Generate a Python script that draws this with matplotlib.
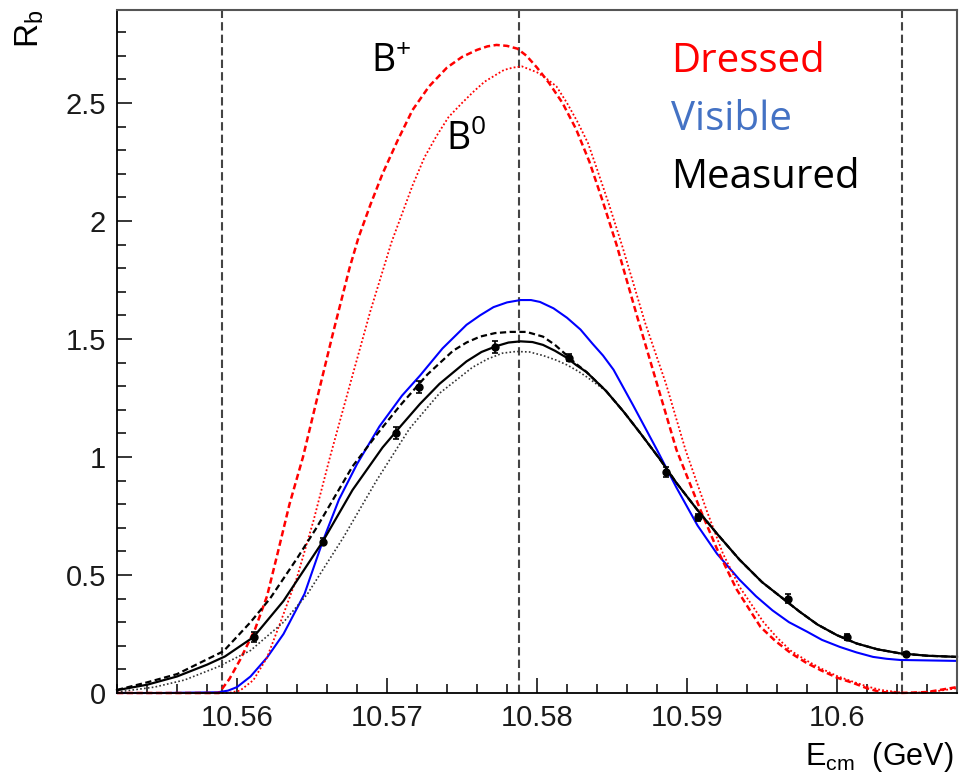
import matplotlib
matplotlib.use("Agg")
import matplotlib.pyplot as plt
from matplotlib.ticker import MultipleLocator, FuncFormatter

# dressed cross sections (red)
bp_dressed_e = [10.552, 10.555, 10.5588, 10.5595, 10.5602, 10.5612, 10.562, 10.5627, 10.5635, 10.5644,
                10.5655, 10.5664, 10.5675, 10.5681, 10.5689, 10.5697, 10.5707, 10.5717, 10.5728, 10.574,
                10.575, 10.576, 10.5767, 10.5773, 10.578, 10.5787, 10.5793, 10.58, 10.5808, 10.5817,
                10.5826, 10.5835, 10.5844, 10.5853, 10.5867, 10.588, 10.5893, 10.5909, 10.592, 10.5933,
                10.5949, 10.5959, 10.5969, 10.5979, 10.5989, 10.6, 10.6011, 10.602, 10.6029, 10.6042,
                10.606, 10.608]
bp_dressed_r = [0, 0, 0, 0.06, 0.14, 0.27, 0.41, 0.59, 0.80, 1.00,
                1.29, 1.525, 1.80, 1.93, 2.07, 2.20, 2.34, 2.47, 2.57, 2.65,
                2.695, 2.725, 2.74, 2.746, 2.742, 2.73, 2.70, 2.65, 2.585, 2.50,
                2.39, 2.25, 2.08, 1.90, 1.59, 1.31, 1.03, 0.775, 0.61, 0.44,
                0.28, 0.22, 0.17, 0.13, 0.097, 0.065, 0.042, 0.02, 0.004, 0,
                0.004, 0.025]

b0_dressed_e = [10.552, 10.555, 10.5594, 10.5602, 10.5611, 10.562, 10.5629, 10.564, 10.5651, 10.5662,
                10.5675, 10.5689, 10.5703, 10.5717, 10.5725, 10.5733, 10.5741, 10.575, 10.5758, 10.5765,
                10.5778, 10.5784, 10.579, 10.58, 10.5806, 10.5813, 10.582, 10.5827, 10.5834, 10.584,
                10.5848, 10.5857, 10.5872, 10.5886, 10.5899, 10.5913, 10.5924, 10.5935, 10.5951, 10.596,
                10.5969, 10.5979, 10.5989, 10.6, 10.6011, 10.602, 10.6029, 10.6045, 10.6062, 10.608]
b0_dressed_r = [0, 0, 0, 0.01, 0.055, 0.15, 0.30, 0.49, 0.73, 1.00,
                1.30, 1.62, 1.91, 2.15, 2.27, 2.36, 2.44, 2.50, 2.55, 2.59,
                2.64, 2.65, 2.655, 2.63, 2.605, 2.57, 2.50, 2.42, 2.33, 2.22,
                2.07, 1.89, 1.57, 1.31, 1.03, 0.775, 0.59, 0.45, 0.30, 0.235,
                0.18, 0.14, 0.105, 0.072, 0.047, 0.028, 0.013, 0, 0.004, 0.02]

# visible (blue)
visible_e = [10.552, 10.555, 10.5587, 10.5594, 10.56, 10.5609, 10.562, 10.5631, 10.5645, 10.5657,
             10.5668, 10.568, 10.5695, 10.571, 10.5722, 10.5737, 10.5753, 10.5762, 10.5771, 10.578,
             10.5789, 10.5796, 10.5802, 10.5811, 10.582, 10.5829, 10.5837, 10.5844, 10.5851, 10.5864,
             10.588, 10.5893, 10.5907, 10.592, 10.5935, 10.5946, 10.5957, 10.5968, 10.598, 10.599,
             10.6002, 10.6013, 10.6024, 10.6033, 10.6042, 10.608]
visible_r = [0, 0, 0.003, 0.01, 0.025, 0.07, 0.15, 0.25, 0.42, 0.64,
             0.82, 0.97, 1.13, 1.26, 1.345, 1.46, 1.56, 1.60, 1.635, 1.655,
             1.665, 1.665, 1.657, 1.63, 1.59, 1.54, 1.48, 1.43, 1.37, 1.22,
             1.03, 0.87, 0.71, 0.59, 0.48, 0.41, 0.35, 0.30, 0.26, 0.225,
             0.195, 0.172, 0.153, 0.145, 0.14, 0.136]

# measured fit (black solid), B+ (dashed), B0 (dotted)
meas_e = [10.552, 10.554, 10.556, 10.558, 10.5592, 10.5611, 10.5631, 10.5657, 10.5677, 10.5697,
          10.5709, 10.5722, 10.5735, 10.5753, 10.5763, 10.5773, 10.5781, 10.5789, 10.5797, 10.5804,
          10.5812, 10.582, 10.5826, 10.5833, 10.5846, 10.5858, 10.5869, 10.5882, 10.5893, 10.5907,
          10.592, 10.5935, 10.595, 10.5962, 10.5975, 10.5987, 10.6, 10.6013, 10.6027, 10.6042,
          10.606, 10.608]
meas_r = [0.012, 0.035, 0.07, 0.12, 0.155, 0.237, 0.39, 0.64, 0.86, 1.04,
          1.13, 1.225, 1.31, 1.405, 1.445, 1.47, 1.485, 1.49, 1.487, 1.475,
          1.45, 1.42, 1.39, 1.36, 1.28, 1.19, 1.10, 0.99, 0.89, 0.775,
          0.675, 0.565, 0.47, 0.41, 0.345, 0.29, 0.245, 0.21, 0.185, 0.168,
          0.158, 0.153]

meas_bp_e = [10.552, 10.554, 10.556, 10.5575, 10.5591, 10.5609, 10.5622, 10.564, 10.5653, 10.5677,
             10.5695, 10.5709, 10.5727, 10.5744, 10.5753, 10.5762, 10.5772, 10.5782, 10.5793, 10.5804,
             10.5812, 10.582, 10.5826, 10.5833, 10.5846, 10.5858, 10.5869, 10.5882, 10.5893, 10.5907,
             10.592, 10.5935, 10.595, 10.5962, 10.5975, 10.5987, 10.6, 10.6013, 10.6027, 10.6042,
             10.606, 10.608]
meas_bp_r = [0.013, 0.045, 0.08, 0.127, 0.177, 0.30, 0.40, 0.57, 0.70, 0.96,
             1.11, 1.22, 1.35, 1.45, 1.485, 1.51, 1.525, 1.53, 1.53, 1.51,
             1.475, 1.43, 1.395, 1.36, 1.28, 1.19, 1.10, 0.99, 0.89, 0.775,
             0.675, 0.565, 0.47, 0.41, 0.345, 0.29, 0.245, 0.21, 0.185, 0.168,
             0.158, 0.153]

meas_b0_e = [10.552, 10.5545, 10.5565, 10.5587, 10.5609, 10.5631, 10.5647, 10.5671, 10.5693, 10.5715,
             10.5735, 10.5757, 10.5767, 10.5777, 10.5786, 10.5795, 10.5804, 10.5813, 10.582, 10.5827,
             10.5833, 10.5846, 10.5858, 10.5869, 10.5882, 10.5893, 10.5907, 10.592, 10.5935, 10.595,
             10.5962, 10.5975, 10.5987, 10.6, 10.6013, 10.6027, 10.6042, 10.606, 10.608]
meas_b0_r = [0.004, 0.025, 0.055, 0.11, 0.18, 0.30, 0.42, 0.66, 0.90, 1.12,
             1.27, 1.38, 1.415, 1.44, 1.447, 1.445, 1.43, 1.41, 1.39, 1.365,
             1.34, 1.28, 1.19, 1.10, 0.99, 0.89, 0.775, 0.675, 0.565, 0.47,
             0.41, 0.345, 0.29, 0.245, 0.21, 0.185, 0.168, 0.158, 0.153]

# scan points
data_e = [10.5611, 10.5657, 10.5706, 10.5721, 10.5772, 10.5821, 10.5886, 10.5907, 10.5967, 10.6007, 10.6046]
data_r = [0.237, 0.64, 1.10, 1.297, 1.466, 1.42, 0.937, 0.745, 0.40, 0.237, 0.165]
data_err = [0.02, 0.015, 0.025, 0.025, 0.025, 0.015, 0.02, 0.015, 0.02, 0.012, 0.01]

vlines_e = [10.559, 10.5788, 10.6043]

plt.rcParams['font.family'] = 'Liberation Sans'
plt.rcParams['mathtext.fontset'] = 'custom'
plt.rcParams['mathtext.rm'] = 'Open Sans'
plt.rcParams['mathtext.sf'] = 'Liberation Sans'
plt.rcParams['lines.scale_dashes'] = False

W, H = 959, 777
fig = plt.figure(figsize=(W / 100, H / 100), dpi=100)
ax = fig.add_axes([117 / W, 84 / H, 840 / W, 683 / H])

for e in vlines_e:
    ax.axvline(e, color='#444444', lw=1.5, dashes=(6, 3))

ax.plot(visible_e, visible_r, color='#0000ff', lw=1.5, clip_on=False)
ax.plot(b0_dressed_e, b0_dressed_r, color='#ff0000', lw=1.3, dashes=(1.3, 1.6), clip_on=False)
ax.plot(bp_dressed_e, bp_dressed_r, color='#ff0000', lw=1.8, dashes=(4.5, 2.5), clip_on=False)
ax.plot(meas_b0_e, meas_b0_r, color='#333333', lw=1.2, dashes=(1.2, 1.6), clip_on=False)
ax.plot(meas_bp_e, meas_bp_r, color='black', lw=1.6, dashes=(4.5, 2.5), clip_on=False)
ax.plot(meas_e, meas_r, color='black', lw=1.6, clip_on=False)
ax.errorbar(data_e, data_r, yerr=data_err, fmt='o', color='black', ms=5,
            elinewidth=1.2, capsize=2.5, capthick=1.2)

ax.set_xlim(10.552, 10.608)
ax.set_ylim(0, 2.894)

ax.xaxis.set_major_locator(MultipleLocator(0.01))
ax.xaxis.set_minor_locator(MultipleLocator(0.002))
ax.yaxis.set_major_locator(MultipleLocator(0.5))
ax.yaxis.set_minor_locator(MultipleLocator(0.1))
ax.xaxis.set_major_formatter(FuncFormatter(lambda v, p: '%g' % round(v, 3)))
ax.yaxis.set_major_formatter(FuncFormatter(lambda v, p: '%g' % v))
ax.tick_params(which='both', direction='in', top=False, right=False, width=1.1,
               labelsize=21, labelcolor='#1a1a1a', pad=8)
ax.tick_params(which='major', length=10.5)
ax.tick_params(which='minor', length=6.5)

for s in ['left', 'bottom']:
    ax.spines[s].set_linewidth(1.3)
    ax.spines[s].set_color('black')
for s in ['top', 'right']:
    ax.spines[s].set_linewidth(1.5)
    ax.spines[s].set_color('#555555')

fig.text(30 / W, 1 - 10 / H, r'$\mathsf{R}_{\mathsf{b}}$', rotation=90, fontsize=24,
         ha='center', va='top')
fig.text(953 / W, 1 - 765 / H, r'$\mathsf{E}_{\mathsf{cm}}$  (GeV)', fontsize=22,
         ha='right', va='baseline')

fig.text(371 / W, 1 - 72 / H, r'$\mathrm{B}^{\mathrm{+}}$', fontsize=27, va='baseline')
fig.text(446 / W, 1 - 150 / H, r'$\mathrm{B}^{\mathrm{0}}$', fontsize=27, va='baseline')
fig.text(671 / W, 1 - 72 / H, 'Dressed', family='Open Sans', fontsize=29, color='#ff0000', va='baseline')
fig.text(671 / W, 1 - 130 / H, 'Visible', family='Open Sans', fontsize=29, color='#4472c4', va='baseline')
fig.text(671 / W, 1 - 188 / H, 'Measured', family='Open Sans', fontsize=29, color='black', va='baseline')

fig.savefig('out.png', dpi=100)
